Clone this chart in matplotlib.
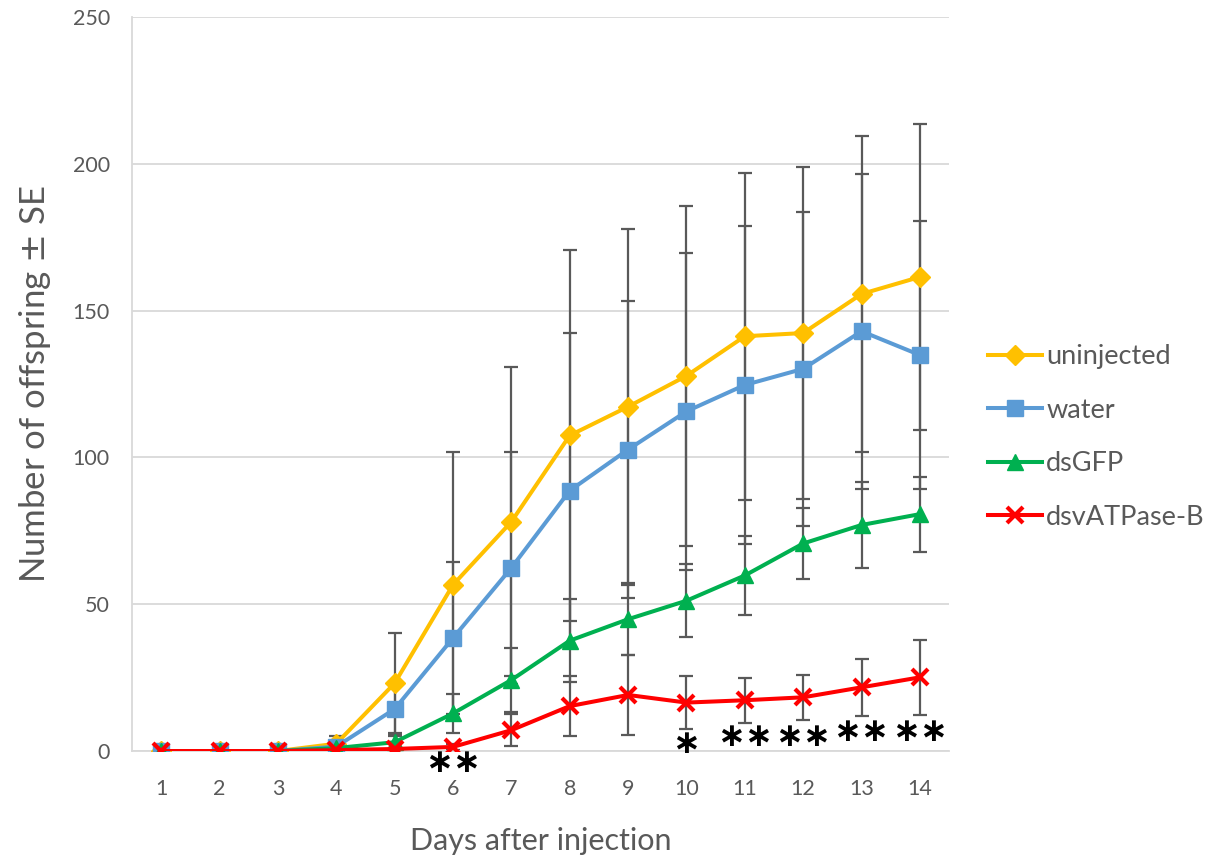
import matplotlib.pyplot as plt

# data
days = [1, 2, 3, 4, 5, 6, 7, 8, 9, 10, 11, 12, 13, 14]

uninjected = [0, 0, 0, 2.5, 23.1, 56.6, 78.1, 107.5, 117.3, 127.8, 141.3, 142.4, 155.7, 161.5]
uninjected_se = [0, 0, 0, 2.5, 17.1, 45.2, 52.6, 63.3, 60.6, 58.0, 55.7, 56.4, 53.7, 52.1]

water = [0, 0, 0, 1.5, 14.3, 38.5, 62.4, 88.7, 102.7, 115.7, 124.7, 130.2, 143.0, 134.9]
water_se = [0, 0, 0, 1.0, 9.0, 25.8, 39.6, 53.6, 50.7, 54.0, 54.2, 53.4, 53.6, 45.6]

dsgfp = [0, 0, 0, 1.0, 3.0, 12.8, 24.2, 37.6, 44.9, 51.2, 59.8, 70.7, 77.0, 80.7]
dsgfp_se = [0, 0, 0, 0.5, 2.0, 6.5, 10.9, 14.2, 12.2, 12.5, 13.3, 12.0, 14.6, 12.8]

dsvatp = [0, 0, 0, 0.3, 0.7, 1.4, 7.1, 15.3, 19.1, 16.5, 17.3, 18.3, 21.7, 25.1]
dsvatp_se = [0, 0, 0, 0.3, 0.5, 1.0, 5.5, 10.2, 13.6, 9.0, 7.6, 7.6, 9.6, 12.8]

# significance marks
star_days = [6, 10, 11, 12, 13, 14]
star_text = ['\u2217\u2217', '\u2217', '\u2217\u2217', '\u2217\u2217', '\u2217\u2217', '\u2217\u2217']
star_y = [-4, 2.4, 4.8, 4.8, 6.5, 6.5]

series = [
    ('uninjected', uninjected, uninjected_se, '#FFC000', 'D', 10),
    ('water', water, water_se, '#5B9BD5', 's', 12),
    ('dsGFP', dsgfp, dsgfp_se, '#00B050', '^', 12),
    ('dsvATPase-B', dsvatp, dsvatp_se, '#FF0000', 'x', 11),
]

plt.rcParams['font.family'] = ['Lato', 'DejaVu Sans']
grey = '#595959'

fig = plt.figure(figsize=(12.11, 8.59), dpi=100)
ax = fig.add_axes([0.109, 0.1257, 0.6747, 0.8543])

for i, (name, vals, se, col, mk, ms) in enumerate(series):
    ax.errorbar(days, vals, yerr=se, fmt='none', ecolor=grey, elinewidth=1.6,
                capsize=5, capthick=1.6, zorder=2)
for i, (name, vals, se, col, mk, ms) in enumerate(series):
    mew = 3 if mk == 'x' else 1
    ax.plot(days, vals, color=col, lw=2.9, marker=mk, markersize=ms,
            markeredgewidth=mew, markeredgecolor=col, label=name, zorder=3 + i)

for d, t, y in zip(star_days, star_text, star_y):
    ax.text(d, y, t, ha='center', va='center', fontsize=24, fontweight='bold',
            color='black', family='DejaVu Sans', zorder=10, clip_on=False)

ax.set_xlim(0.5, 14.5)
ax.set_ylim(0, 250)
ax.set_xticks(days)
ax.set_yticks(range(0, 251, 50))
ax.tick_params(axis='both', length=0, labelsize=15.5, labelcolor=grey)
ax.tick_params(axis='x', pad=20)
ax.tick_params(axis='y', pad=16)
ax.grid(axis='y', color='#d9d9d9', lw=1.3)
ax.set_axisbelow(True)
for s in ['top', 'right']:
    ax.spines[s].set_visible(False)
ax.spines['left'].set_color('#d9d9d9')
ax.spines['bottom'].set_color('#d9d9d9')
ax.spines['left'].set_linewidth(1.3)
ax.spines['bottom'].set_linewidth(1.3)

ax.set_xlabel('Days after injection', fontsize=22, color=grey, labelpad=20)
ax.set_ylabel('Number of offspring $\\pm$ SE', fontsize=25, color=grey, labelpad=14)

leg = ax.legend(loc='center left', bbox_to_anchor=(1.018, 0.428), frameon=False,
                fontsize=19.5, labelspacing=1.05, handlelength=2.0, handletextpad=0.15)
for t in leg.get_texts():
    t.set_color(grey)

fig.savefig('out.png', dpi=100)
